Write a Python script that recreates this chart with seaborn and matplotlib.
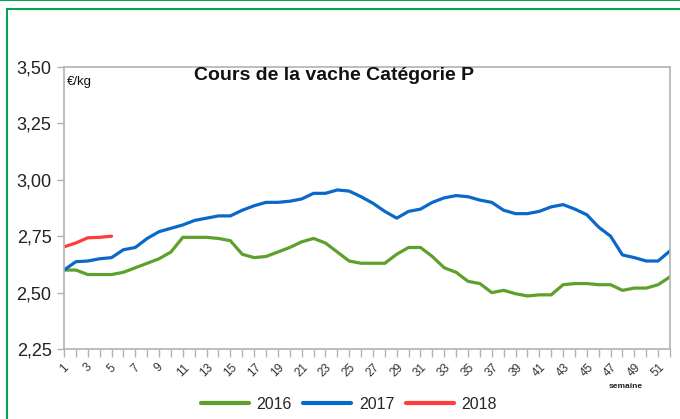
import matplotlib
matplotlib.use("Agg")
import matplotlib.pyplot as plt
from matplotlib.lines import Line2D
from matplotlib.ticker import FuncFormatter
import seaborn as sns
import pandas as pd

weeks = list(range(1, 53))
prix_2016 = [2.60, 2.60, 2.58, 2.58, 2.58, 2.59, 2.61, 2.63, 2.65, 2.68,
             2.745, 2.745, 2.745, 2.74, 2.73, 2.67, 2.655, 2.66, 2.68, 2.70,
             2.725, 2.74, 2.72, 2.68, 2.64, 2.63, 2.63, 2.63, 2.67, 2.70,
             2.70, 2.66, 2.61, 2.59, 2.55, 2.54, 2.50, 2.51, 2.495, 2.485,
             2.49, 2.49, 2.535, 2.54, 2.54, 2.535, 2.535, 2.51, 2.52, 2.52,
             2.535, 2.57]
prix_2017 = [2.60, 2.637, 2.64, 2.65, 2.655, 2.69, 2.70, 2.74, 2.77, 2.785,
             2.80, 2.82, 2.83, 2.84, 2.84, 2.865, 2.885, 2.90, 2.90, 2.905,
             2.915, 2.94, 2.94, 2.955, 2.95, 2.925, 2.896, 2.86, 2.83, 2.86,
             2.87, 2.90, 2.92, 2.93, 2.925, 2.91, 2.90, 2.865, 2.85, 2.85,
             2.86, 2.88, 2.89, 2.87, 2.845, 2.79, 2.75, 2.667, 2.655, 2.64,
             2.64, 2.685]
prix_2018 = [2.703, 2.72, 2.743, 2.745, 2.75]
annees = ["2016", "2017", "2018"]
couleurs = ["#5ea12a", "#0a68c8", "#ff3b3b"]
yticks = [2.25, 2.50, 2.75, 3.00, 3.25, 3.50]

rows = []
for annee, vals in zip(annees, [prix_2016, prix_2017, prix_2018]):
    for w, v in zip(weeks, vals):
        rows.append({"semaine": w, "prix": v, "annee": annee})
df = pd.DataFrame(rows)

sns.set_theme(style="white")
plt.rcParams["font.family"] = ["Liberation Sans", "DejaVu Sans"]

fig = plt.figure(figsize=(6.8, 4.19), dpi=100)
ax = fig.add_axes([64 / 680, 1 - 349 / 419, (670 - 64) / 680, (349 - 67) / 419])

sns.lineplot(data=df, x="semaine", y="prix", hue="annee",
             palette=dict(zip(annees, couleurs)), linewidth=2.3,
             legend=False, ax=ax)

ax.set_xlim(1, 52)
ax.set_ylim(2.25, 3.50)
ax.set_yticks(yticks)
ax.yaxis.set_major_formatter(FuncFormatter(lambda v, p: f"{v:.2f}".replace(".", ",")))
ax.set_xticks(weeks)
ax.set_xticklabels([str(w) if w % 2 == 1 else "" for w in weeks],
                   rotation=45, fontsize=8.5, color="#333333")
ax.tick_params(axis="y", labelsize=13, length=5, width=1, color="#b3b3b3",
               left=True, pad=4, labelcolor="#222222")
ax.tick_params(axis="x", length=6, width=1, color="#b3b3b3", bottom=True, pad=3)
ax.set_xlabel("")
ax.set_ylabel("")
for s in ax.spines.values():
    s.set_color("#b3b3b3")
    s.set_linewidth(1.2)

ax.text(334 / 680, 1 - 76 / 419, "Cours de la vache Catégorie P",
        transform=fig.transFigure, ha="center", va="center",
        fontsize=14, fontweight="bold", color="#111111")
ax.text(67 / 680, 1 - 82 / 419, "€/kg", transform=fig.transFigure,
        ha="left", va="center", fontsize=9.5, color="#111111")
ax.text(626 / 680, 1 - 386 / 419, "semaine", transform=fig.transFigure,
        ha="center", va="center", fontsize=6, fontweight="bold", color="#222222")

handles = [Line2D([0], [0], color=c, lw=3) for c in couleurs]
fig.legend(handles, annees, loc="center", bbox_to_anchor=(349 / 680, 1 - 404 / 419),
           ncol=3, frameon=False, fontsize=11.5, handlelength=3.0,
           columnspacing=0.7, handletextpad=0.5)

vert = "#00a651"
fig.add_artist(Line2D([0, 1], [1 - 0.5 / 419, 1 - 0.5 / 419], transform=fig.transFigure,
                      color=vert, lw=1.5))
fig.add_artist(Line2D([7 / 680, 1], [1 - 9 / 419, 1 - 9 / 419], transform=fig.transFigure,
                      color=vert, lw=1.5))
fig.add_artist(Line2D([7 / 680, 7 / 680], [0, 1 - 9 / 419], transform=fig.transFigure,
                      color=vert, lw=1.5))

fig.savefig("out.png", dpi=100)
